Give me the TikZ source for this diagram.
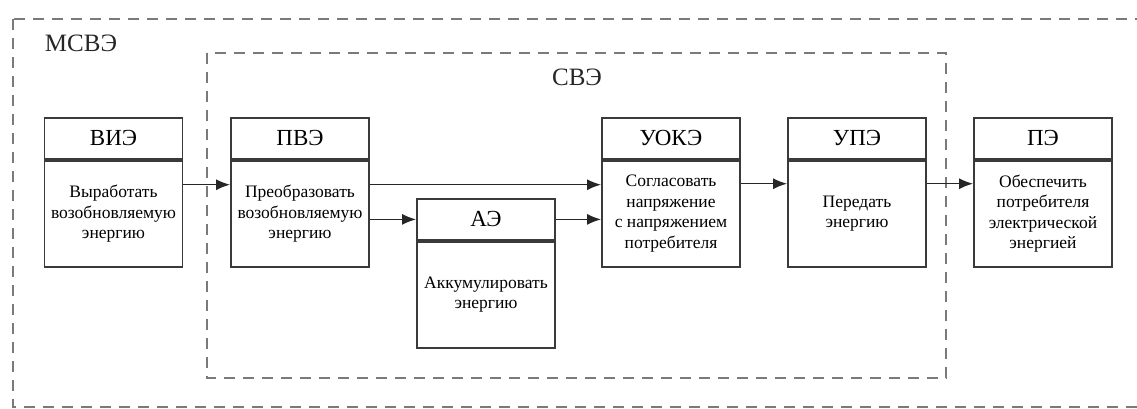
\documentclass[tikz,border=0pt]{standalone}
\usepackage{fontspec}
\setmainfont{Liberation Serif}
\usetikzlibrary{arrows.meta}
\definecolor{boxline}{HTML}{3A3A3A}
\definecolor{dashline}{HTML}{7A7A7A}
\begin{document}
\begin{tikzpicture}[x=1pt,y=-1pt,
  dashbox/.style={draw=dashline, line width=2pt, dash pattern=on 11pt off 8pt},
  lbl/.style={font=\fontsize{25}{28}\selectfont, text=black!85, inner sep=0pt},
  hdr/.style={draw=boxline, line width=1.8pt, minimum width=138pt, minimum height=41pt, inner sep=0pt, anchor=north, font=\fontsize{23}{26}\selectfont},
  bodyb/.style={draw=boxline, line width=1.8pt, minimum width=138pt, inner sep=0pt, anchor=north, align=center, font=\fontsize{17.5}{20.5}\selectfont},
  arr/.style={draw=black!85, line width=1.5pt, -{Latex[length=14pt,width=11pt]}}
]
\useasboundingbox (0,0) rectangle (1137,409);
\clip (0,0) rectangle (1137,409);
\fill[white] (0,0) rectangle (1137,409);
% dashed frames
\draw[dashbox] (13,19) rectangle (1170,407);
\draw[dashbox] (207,53) rectangle (946,378);
\node[lbl] (mcve) at (81,43) {МСВЭ};
\node[lbl] (cve) at (577,77) {СВЭ};
% blocks
\node[hdr] (vieh) at (113.5,117) {ВИЭ};
\node[bodyb, minimum height=106pt] (vieb) at (vieh.south) {Выработать\\возобновляемую\\энергию};
\node[hdr] (pveh) at (300,117) {ПВЭ};
\node[bodyb, minimum height=106pt] (pveb) at (pveh.south) {Преобразовать\\возобновляемую\\энергию};
\node[hdr] (aeh) at (486,198) {АЭ};
\node[bodyb, minimum height=106pt] (aeb) at (aeh.south) {Аккумулировать\\энергию};
\node[hdr] (uokeh) at (671,117) {УОКЭ};
\node[bodyb, minimum height=106pt] (uokeb) at (uokeh.south) {Согласовать\\напряжение\\с напряжением\\потребителя};
\node[hdr] (upeh) at (857,117) {УПЭ};
\node[bodyb, minimum height=106pt] (upeb) at (upeh.south) {Передать\\энергию};
\node[hdr] (peh) at (1043,117) {ПЭ};
\node[bodyb, minimum height=106pt] (peb) at (peh.south) {Обеспечить\\потребителя\\электрической\\энергией};
% connectors
\draw[arr] ([yshift=29pt]vieb.east) -- ([yshift=29pt]pveb.west);
\draw[arr] ([yshift=29pt]pveb.east) -- ([yshift=29pt]uokeb.west);
\draw[arr] (pveb.east |- aeh.west) -- (aeh.west);
\draw[arr] (aeh.east) -- (uokeb.west |- aeh.east);
\draw[arr] ([yshift=30pt]uokeb.east) -- ([yshift=30pt]upeb.west);
\draw[arr] ([yshift=30pt]upeb.east) -- ([yshift=30pt]peb.west);
\end{tikzpicture}
\end{document}
